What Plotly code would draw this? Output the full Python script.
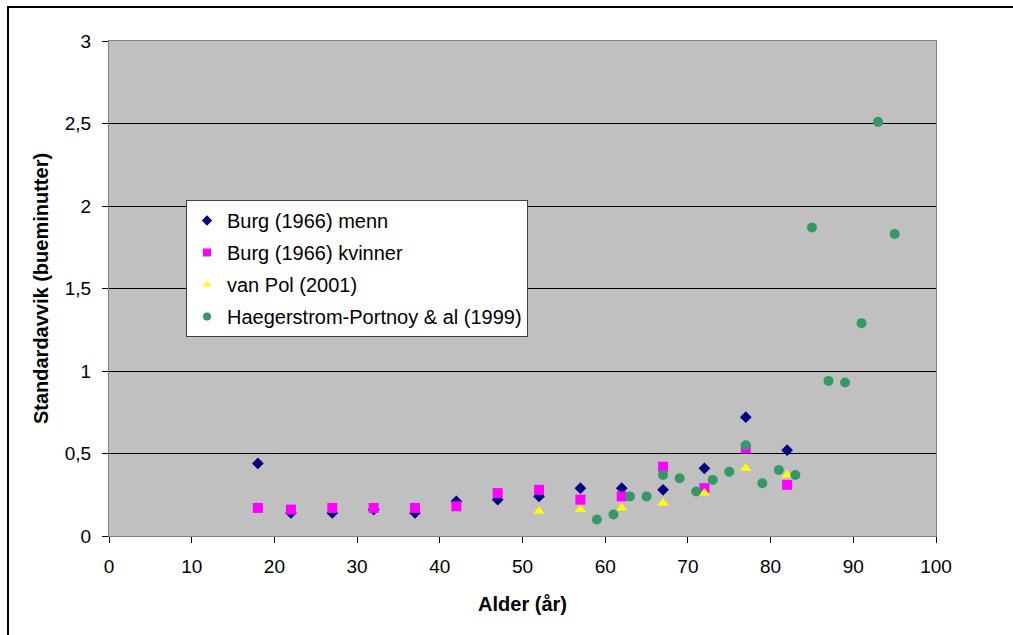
import plotly.graph_objects as go

# Burg (1966), men
menn_alder = [18, 22, 27, 32, 37, 42, 47, 52, 57, 62, 67, 72, 77, 82]
menn_sd = [0.44, 0.14, 0.14, 0.16, 0.14, 0.21, 0.22, 0.24, 0.29, 0.29, 0.28, 0.41, 0.72, 0.52]

# Burg (1966), women
kvinner_alder = [18, 22, 27, 32, 37, 42, 47, 52, 57, 62, 67, 72, 77, 82]
kvinner_sd = [0.17, 0.16, 0.17, 0.17, 0.17, 0.18, 0.26, 0.28, 0.22, 0.24, 0.42, 0.29, 0.53, 0.31]

# van Pol (2001)
vanpol_alder = [52, 57, 62, 67, 72, 77, 82]
vanpol_sd = [0.15, 0.16, 0.17, 0.20, 0.26, 0.41, 0.37]

# Haegerstrom-Portnoy & al (1999)
hp_alder = [59, 61, 63, 65, 67, 69, 71, 73, 75, 77, 79, 81, 83, 85, 87, 89, 91, 93, 95]
hp_sd = [0.10, 0.13, 0.24, 0.24, 0.37, 0.35, 0.27, 0.34, 0.39, 0.55, 0.32, 0.40, 0.37,
         1.87, 0.94, 0.93, 1.29, 2.51, 1.83]

x_ticks = [0, 10, 20, 30, 40, 50, 60, 70, 80, 90, 100]
y_ticks = [0, 0.5, 1, 1.5, 2, 2.5, 3]

FONT = "Liberation Sans, Arial, sans-serif"

series = [
    ("Burg (1966) menn", menn_alder, menn_sd, "diamond", 9, "#000080"),
    ("Burg (1966) kvinner", kvinner_alder, kvinner_sd, "square", 10, "#FF00FF"),
    ("van Pol (2001)", vanpol_alder, vanpol_sd, "triangle-up", 10, "#FFFF00"),
    ("Haegerstrom-Portnoy & al (1999)", hp_alder, hp_sd, "circle", 10, "#339966"),
]

fig = go.Figure()
for i, (name, xs, ys, sym, size, color) in enumerate(series):
    # data points
    fig.add_trace(go.Scatter(
        x=xs, y=ys, mode="markers", name=name, showlegend=False,
        legendgroup=f"g{i}",
        marker=dict(symbol=sym, size=size, color=color, line=dict(width=0)),
    ))
    # smaller legend key
    fig.add_trace(go.Scatter(
        x=[None], y=[None], mode="markers", name=name, showlegend=True,
        legendgroup=f"g{i}",
        marker=dict(symbol=sym, size=8, color=color, line=dict(width=0)),
    ))

fig.update_layout(
    width=1013, height=635,
    margin=dict(l=109, r=77, t=41, b=99, autoexpand=False),
    paper_bgcolor="white",
    plot_bgcolor="#C0C0C0",
    separators=", ",
    font=dict(family=FONT, size=19, color="black"),
    showlegend=True,
    legend=dict(
        x=(186 - 109) / 827, y=(536 - 200) / 495, xanchor="left", yanchor="top",
        bgcolor="white", bordercolor="#404040", borderwidth=1,
        font=dict(family=FONT, size=20, color="black"),
        tracegroupgap=3,
    ),
    xaxis=dict(
        range=[0, 100], tickvals=x_ticks, ticktext=[str(v) for v in x_ticks],
        showgrid=False, zeroline=False,
        showline=True, linecolor="#808080", linewidth=1, mirror=True,
        ticks="outside", ticklen=6, tickcolor="black", tickwidth=1,
        ticklabelstandoff=7,
        tickfont=dict(family=FONT, size=19),
        title=dict(text="<b>Alder (år)</b>", font=dict(family=FONT, size=20), standoff=21),
    ),
    yaxis=dict(
        range=[0, 3], tickvals=y_ticks,
        showgrid=True, gridcolor="black", gridwidth=1,
        zeroline=False,
        showline=True, linecolor="#808080", linewidth=1, mirror=True,
        ticks="outside", ticklen=6, tickcolor="black", tickwidth=1,
        ticklabelstandoff=7,
        tickfont=dict(family=FONT, size=19),
        title=dict(text="<b>Standardavvik (bueminutter)</b>", font=dict(family=FONT, size=20),
                   standoff=10),
    ),
)

# Chart frame around the whole figure
fig.add_shape(
    type="rect", xref="paper", yref="paper",
    x0=(8 - 109) / 827, x1=(1030 - 109) / 827,
    y0=(536 - 660) / 495, y1=(536 - 7) / 495,
    line=dict(color="black", width=2), fillcolor="rgba(0,0,0,0)", layer="above",
)

fig.write_html("out.html")
